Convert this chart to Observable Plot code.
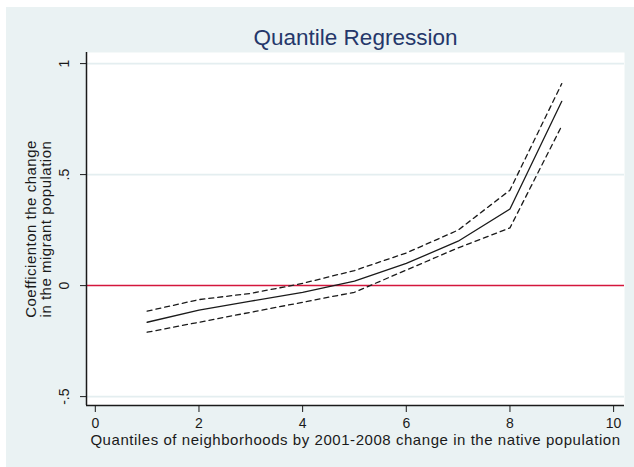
<!DOCTYPE html>
<html>
<head>
<meta charset="utf-8">
<script src="https://cdn.jsdelivr.net/npm/d3@7"></script>
<script src="https://cdn.jsdelivr.net/npm/@observablehq/plot@0.6"></script>
<style>
  html, body { margin: 0; padding: 0; background: #ffffff; }
  #wrap { padding: 7px 0 0 6px; width: 628px; height: 460px; }
  #wrap svg { background: #eaf2f3; display: block; }
</style>
</head>
<body>
<div id="wrap"></div>
<script>
// Quantile index of neighbourhoods (2001-2008 change in native population)
const quantiles = [1, 2, 3, 4, 5, 6, 7, 8, 9];
// Coefficient on the change in the migrant population, with confidence bounds
const coef  = [-0.165, -0.11, -0.07, -0.03, 0.02, 0.10, 0.20, 0.345, 0.83];
const upper = [-0.115, -0.063, -0.035, 0.01, 0.068, 0.147, 0.25, 0.43, 0.91];
const lower = [-0.21, -0.165, -0.12, -0.075, -0.03, 0.07, 0.17, 0.26, 0.72];

const xTicks = [0, 2, 4, 6, 8, 10];
const yTicks = [-0.5, 0, 0.5, 1];

const titleText = "Quantile Regression";
const xTitle = "Quantiles of neighborhoods by 2001-2008 change in the native population";
const yTitle = "Coefficienton the change\nin the migrant population";

const rows = quantiles.map((q, i) => ({q, coef: coef[i], upper: upper[i], lower: lower[i]}));

// Stata-style number labels: ".5", "-.5"
const fmt = d => String(d).replace(/^(-?)0\./, "$1.");

const xDomain = [-0.17, 10.21];
const yDomain = [-0.54, 1.05];
const ink = "#1a1a1a";

const chart = Plot.plot({
  width: 628,
  height: 460,
  marginLeft: 80,
  marginRight: 10,
  marginTop: 45,
  marginBottom: 62,
  style: {fontFamily: "'Liberation Sans', Arial, sans-serif", color: ink, background: "#eaf2f3"},
  x: {domain: xDomain},
  y: {domain: yDomain},
  marks: [
    Plot.frame({fill: "#ffffff", stroke: "none"}),
    Plot.gridY([-0.5, 0.5, 1], {stroke: "#e4eef0", strokeOpacity: 1, strokeWidth: 1.6}),
    Plot.ruleY([0], {stroke: "#d4163c", strokeWidth: 1.5}),
    Plot.line(rows, {x: "q", y: "upper", stroke: ink, strokeWidth: 1.3, strokeDasharray: "5,4"}),
    Plot.line(rows, {x: "q", y: "lower", stroke: ink, strokeWidth: 1.3, strokeDasharray: "5,4"}),
    Plot.line(rows, {x: "q", y: "coef", stroke: ink, strokeWidth: 1.3}),
    // axis lines
    Plot.ruleX([xDomain[0]], {stroke: ink, strokeWidth: 1.5}),
    Plot.ruleY([yDomain[0]], {stroke: ink, strokeWidth: 1.5}),
    Plot.axisY({ticks: yTicks, tickFormat: fmt, tickSize: 6, tickRotate: -90, tickPadding: 12,
      fontSize: 14, label: null, stroke: ink}),
    Plot.axisX({ticks: xTicks, tickFormat: fmt, tickSize: 7, tickPadding: 6,
      fontSize: 14, label: null, stroke: ink}),
    Plot.text([titleText], {frameAnchor: "top", dy: -8, lineAnchor: "bottom",
      fontSize: 22.5, fill: "#25376a"}),
    Plot.text([yTitle], {frameAnchor: "left", textAnchor: "middle", dx: -47.5, rotate: -90,
      lineAnchor: "middle", lineHeight: 0.97, fontSize: 15, fill: ink}),
    Plot.text([xTitle], {frameAnchor: "bottom", dy: 35, lineAnchor: "middle",
      fontSize: 15, fill: ink})
  ]
});

// the axis titles are set slightly spread out
d3.select(chart).selectAll("text")
  .filter(function() { return this.textContent === xTitle; })
  .attr("letter-spacing", 0.55);
d3.select(chart).selectAll("text")
  .filter(function() { return this.textContent.startsWith("Coefficienton"); })
  .attr("letter-spacing", 0.5);

document.getElementById("wrap").appendChild(chart);
</script>
</body>
</html>
